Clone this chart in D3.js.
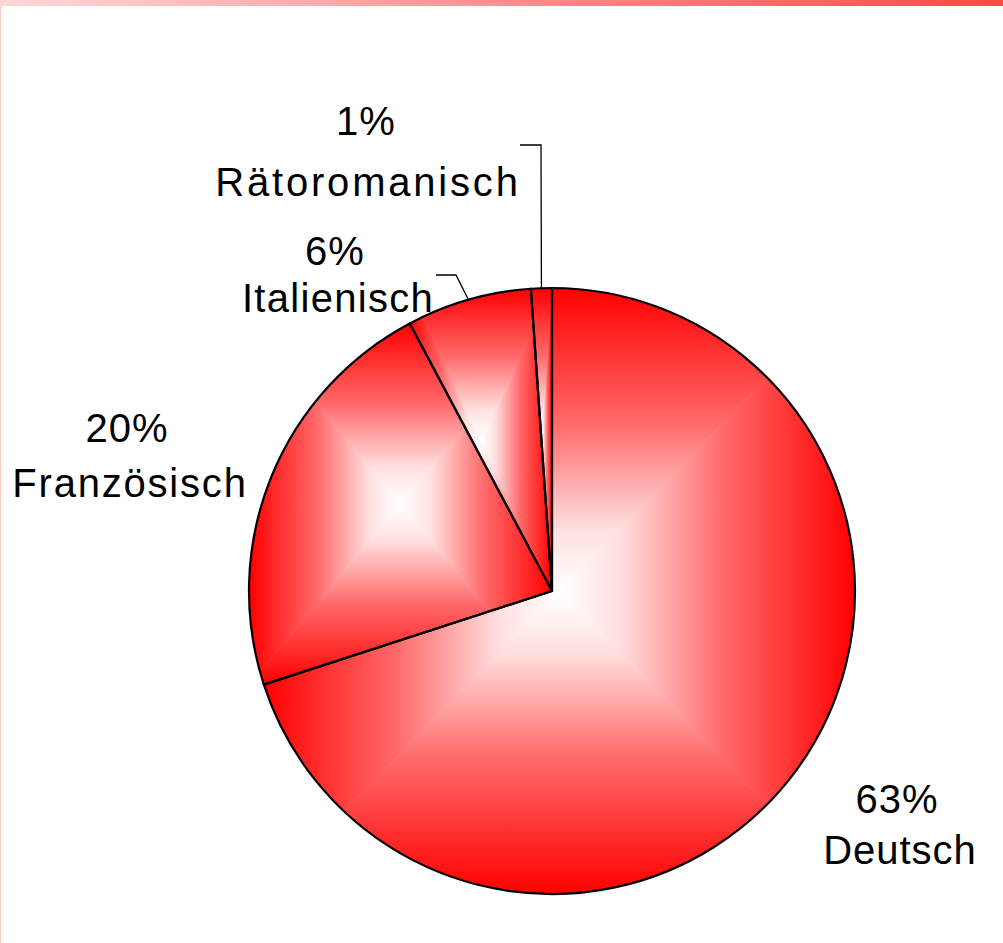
<!DOCTYPE html>
<html>
<head>
<meta charset="utf-8">
<script src="https://cdn.jsdelivr.net/npm/d3@7"></script>
<style>
  html, body { margin: 0; padding: 0; background: #fff; }
  svg { display: block; }
</style>
</head>
<body>
<svg id="chart" width="1003" height="943"></svg>
<script>
// ---- data ----
const categories = ["Deutsch", "Französisch", "Italienisch", "Rätoromanisch"];
const values = [63, 20, 6, 1];
const percentLabels = ["63%", "20%", "6%", "1%"];

// ---- layout (not data) ----
const W = 1003, H = 943;
const cx = 552, cy = 591, R = 303;
const labelLayout = [
  { pctX: 897, pctY: 813, nameX: 900, nameY: 864, sp: 1.0, leader: null },
  { pctX: 127, pctY: 442, nameX: 130, nameY: 497, sp: 1.8, leader: null },
  { pctX: 335, pctY: 265, nameX: 338, nameY: 312, sp: 1.3, leader: [[436, 275], [456, 275]] },
  { pctX: 366, pctY: 135, nameX: 368, nameY: 196, sp: 2.8, leader: [[520, 145], [541, 145]] }
];

const svg = d3.select("#chart");
const defs = svg.append("defs");

// page frame: top gradient bar + thin left line
const barGrad = defs.append("linearGradient").attr("id", "topbar")
  .attr("x1", "0%").attr("x2", "100%").attr("y1", "0%").attr("y2", "0%");
barGrad.append("stop").attr("offset", "0%").attr("stop-color", "#ffd8d8");
barGrad.append("stop").attr("offset", "100%").attr("stop-color", "#ff4848");
svg.append("rect").attr("x", 0).attr("y", 0).attr("width", W).attr("height", 6).attr("fill", "url(#topbar)");
svg.append("rect").attr("x", 0).attr("y", 6).attr("width", 1).attr("height", H - 6).attr("fill", "#ffc4c4");

const pie = d3.pie().sort(null).value(d => d)(values);
const arc = d3.arc().innerRadius(0).outerRadius(R);

// bounding box of a slice (local coords)
function sliceBox(d) {
  const pts = [[0, 0]];
  const steps = 200;
  for (let i = 0; i <= steps; i++) {
    const a = d.startAngle + (d.endAngle - d.startAngle) * i / steps;
    pts.push([R * Math.sin(a), -R * Math.cos(a)]);
  }
  const xs = pts.map(p => p[0]), ys = pts.map(p => p[1]);
  return [d3.min(xs), d3.min(ys), d3.max(xs), d3.max(ys)];
}

const gradStops = [[0, "#ff0000"], [0.45, "#ff6a6a"], [0.8, "#ffe0e0"], [1, "#ffffff"]];

// rectangular "from centre" gradient fill per slice
pie.forEach((d, i) => {
  const id = "clip" + i;
  defs.append("clipPath").attr("id", id)
    .append("path").attr("d", arc(d));
  const [x0, y0, x1, y1] = sliceBox(d);
  const mx = (x0 + x1) / 2, my = (y0 + y1) / 2;
  const gg = svg.append("g").attr("transform", `translate(${cx},${cy})`)
    .append("g").attr("clip-path", `url(#${id})`);
  const tris = [
    { pts: [[x0, y0], [x1, y0], [mx, my]], from: [mx, y0], to: [mx, my] },
    { pts: [[x1, y0], [x1, y1], [mx, my]], from: [x1, my], to: [mx, my] },
    { pts: [[x1, y1], [x0, y1], [mx, my]], from: [mx, y1], to: [mx, my] },
    { pts: [[x0, y1], [x0, y0], [mx, my]], from: [x0, my], to: [mx, my] }
  ];
  tris.forEach((t, k) => {
    const gid = `g${i}_${k}`;
    const lg = defs.append("linearGradient").attr("id", gid)
      .attr("gradientUnits", "userSpaceOnUse")
      .attr("x1", t.from[0]).attr("y1", t.from[1])
      .attr("x2", t.to[0]).attr("y2", t.to[1]);
    gradStops.forEach(s => lg.append("stop").attr("offset", s[0]).attr("stop-color", s[1]));
    gg.append("path")
      .attr("d", d3.line()(t.pts) + "Z")
      .attr("fill", `url(#${gid})`)
      .attr("stroke", `url(#${gid})`)
      .attr("stroke-width", 0.8);
  });
});

// slice outlines
const g = svg.append("g").attr("transform", `translate(${cx},${cy})`);
g.selectAll("path.outline").data(pie).join("path")
  .attr("class", "outline")
  .attr("d", arc)
  .attr("fill", "none")
  .attr("stroke", "#000")
  .attr("stroke-width", 2.2)
  .attr("stroke-linejoin", "round");

// leader lines
pie.forEach((d, i) => {
  const L = labelLayout[i].leader;
  if (!L) return;
  const a = (d.startAngle + d.endAngle) / 2;
  const end = [cx + R * Math.sin(a), cy - R * Math.cos(a)];
  svg.append("path")
    .attr("d", d3.line()([...L, end]))
    .attr("fill", "none")
    .attr("stroke", "#000")
    .attr("stroke-width", 1.3);
});

// labels
const font = "'Liberation Sans', Arial, sans-serif";
pie.forEach((d, i) => {
  const L = labelLayout[i];
  svg.append("text").attr("x", L.pctX).attr("y", L.pctY)
    .attr("text-anchor", "middle").attr("font-family", font)
    .attr("font-size", 40).attr("letter-spacing", 1).attr("fill", "#000")
    .text(percentLabels[i]);
  svg.append("text").attr("x", L.nameX).attr("y", L.nameY)
    .attr("text-anchor", "middle").attr("font-family", font)
    .attr("font-size", 40).attr("letter-spacing", L.sp).attr("fill", "#000")
    .text(categories[i]);
});
</script>
</body>
</html>
